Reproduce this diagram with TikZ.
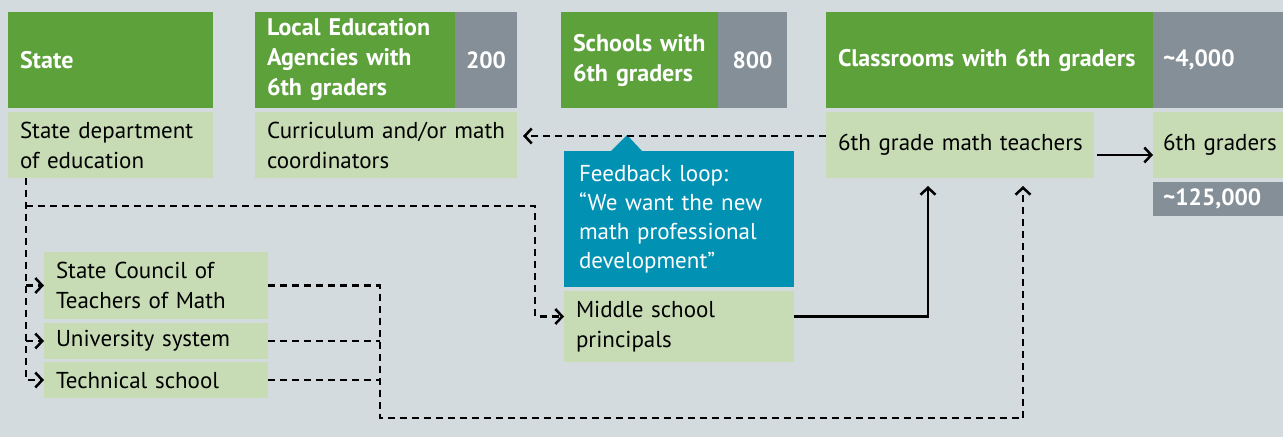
\documentclass[tikz,border=0pt]{standalone}
\usepackage{fontspec}
\setmainfont{PT Sans}
\usetikzlibrary{arrows.meta}
\definecolor{bgcol}{HTML}{D3DBDF}
\definecolor{darkgreen}{HTML}{5CA13A}
\definecolor{lightgreen}{HTML}{C7DCB5}
\definecolor{numgray}{HTML}{848F97}
\definecolor{fbblue}{HTML}{0091B3}
\begin{document}
\begin{tikzpicture}[x=1pt,y=-1pt,
        every node/.style={anchor=north west, inner ysep=0pt, outer sep=0pt, font=\fontsize{23}{30}\selectfont},
        head/.style={fill=darkgreen, text=white, font=\fontsize{24}{30}\selectfont\bfseries, inner xsep=12pt, align=left, minimum height=96pt},
        num/.style={fill=numgray, text=white, font=\fontsize{23.5}{30}\selectfont\bfseries, inner xsep=0pt, align=center, minimum height=96pt},
        item/.style={fill=lightgreen, inner xsep=12pt, align=left, minimum height=66pt},
        dashline/.style={dash pattern=on 7pt off 5pt, line width=2.5pt},
        solidline/.style={line width=2.5pt},
        arr/.style={-{Straight Barb[length=7pt,width=15pt,line width=2.5pt]}}]
        \useasboundingbox (0,0) rectangle (1283,437);
        \fill[bgcol] (0,0) rectangle (1283,437);
        % top row
        \node[head, text width=181pt] (state) at (8,12) {State};
        \node[item, text width=181pt] (stateDept) at (8,112) {State department\\of education};
        \node[head, text width=176pt] (lea) at (255,12) {Local Education\\Agencies with\\6th graders};
        \node[num, minimum width=62pt] (leaNum) at (455,12) {200};
        \node[item, text width=238pt] (coord) at (255,112) {Curriculum and/or math\\coordinators};
        \node[head, text width=133pt] (schools) at (561,12) {Schools with\\6th graders};
        \node[num, minimum width=69pt] (schoolsNum) at (718,12) {800};
        \node[head, text width=303pt] (class) at (826,12) {Classrooms with 6th graders};
        \node[num, align=left, inner xsep=10pt, text width=110pt] (classNum) at (1153,12) {\textasciitilde4,000};
        \node[item, text width=244pt] (teachers) at (826,112) {\mbox{6th grade math teachers}};
        \node[item, inner xsep=10pt, text width=110pt] (graders) at (1153,112) {\mbox{6th graders}};
        \node[num, align=left, inner xsep=10pt, text width=110pt, minimum height=34pt] (gradersNum) at (1153,182) {\textasciitilde125,000};
        % feedback callout
        \node[fill=fbblue, text=white, align=left, inner xsep=15pt, text width=200pt, minimum height=136pt, font=\fontsize{23}{29}\selectfont] (feedback) at (564,151) {Feedback loop:\\“We want the new\\math professional\\development”};
        \fill[fbblue] ([xshift=47pt]feedback.north west) -- ([xshift=63pt,yshift=16pt]feedback.north west) -- ([xshift=78pt]feedback.north west) -- cycle;
        \node[item, text width=206pt, minimum height=71pt] (principals) at (564,291) {Middle school\\principals};
        % left column
        \node[item, text width=200pt, minimum height=67pt] (council) at (44,252) {State Council of\\Teachers of Math};
        \node[item, text width=200pt, minimum height=36pt] (univ) at (44,323) {University system};
        \node[item, text width=200pt, minimum height=36pt] (tech) at (44,362) {Technical school};
        % connectors
        \coordinate (spine) at ([xshift=18pt]stateDept.south west);
        \coordinate (bend) at (535,206);
        \coordinate (bus) at (380,418);
        \draw[dashline,arr] (spine) |- (tech.west);
        \draw[dashline,arr] (spine |- council.west) -- (council.west);
        \draw[dashline,arr] (spine |- univ.west) -- (univ.west);
        \draw[dashline,arr] (spine |- bend) -- (bend) |- ([yshift=10pt]principals.west);
        \draw[dashline,arr] (council.east) -| (bus) -| ([xshift=63pt,yshift=-8pt]teachers.south);
        \draw[dashline] (univ.east) -- (univ.east -| bus);
        \draw[dashline] (tech.east) -- (tech.east -| bus);
        \draw[solidline,arr] ([yshift=10pt]principals.east) -| ([xshift=-32pt,yshift=-8pt]teachers.south);
        \draw[dashline,arr] ([yshift=9pt]teachers.west) -- ([xshift=6pt,yshift=9pt]coord.east);
        \draw[solidline,arr] ([xshift=3pt,yshift=-10pt]teachers.east) -- ([yshift=-10pt]graders.west);
\end{tikzpicture}
\end{document}
